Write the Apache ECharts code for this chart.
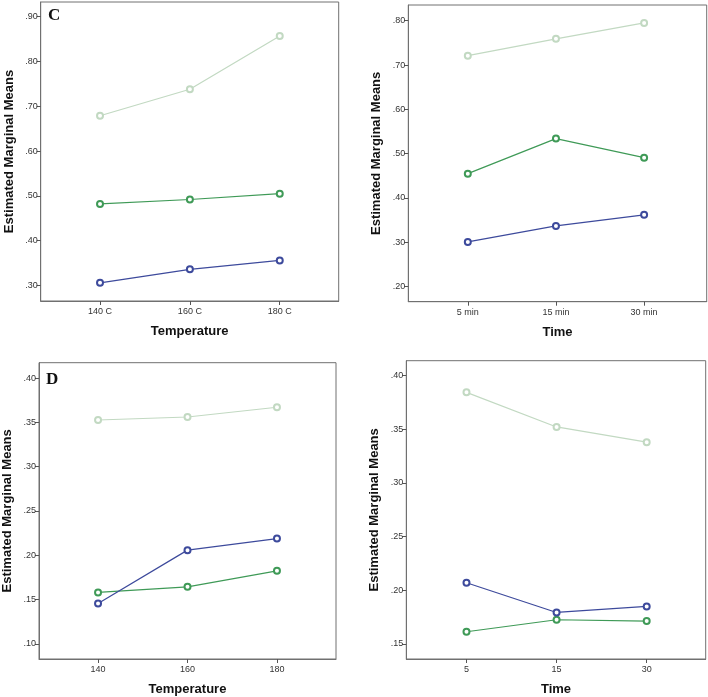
<!DOCTYPE html>
<html>
<head>
<meta charset="utf-8">
<script src="https://cdn.jsdelivr.net/npm/echarts@6/dist/echarts.min.js"></script>
<style>html,body{margin:0;padding:0;background:#fff}#c{width:708px;height:697px}</style>
</head>
<body>
<div id="c"></div>
<script>
// ---- data ----
const tempCatsC = ['140 C', '160 C', '180 C'];
const timeCatsC = ['5 min', '15 min', '30 min'];
const tempCatsD = ['140', '160', '180'];
const timeCatsD = ['5', '15', '30'];

const yTicksC1 = [0.30, 0.40, 0.50, 0.60, 0.70, 0.80, 0.90];
const yTicksC2 = [0.20, 0.30, 0.40, 0.50, 0.60, 0.70, 0.80];
const yTicksD1 = [0.10, 0.15, 0.20, 0.25, 0.30, 0.35, 0.40];
const yTicksD2 = [0.15, 0.20, 0.25, 0.30, 0.35, 0.40];

// panel C, temperature
const cTempLight = [0.679, 0.738, 0.857];
const cTempGreen = [0.482, 0.492, 0.505];
const cTempBlue  = [0.306, 0.336, 0.356];
// panel C, time
const cTimeLight = [0.721, 0.759, 0.795];
const cTimeGreen = [0.455, 0.534, 0.491];
const cTimeBlue  = [0.301, 0.337, 0.362];
// panel D, temperature
const dTempLight = [0.3526, 0.356, 0.367];
const dTempBlue  = [0.1455, 0.2057, 0.2188];
const dTempGreen = [0.158, 0.1643, 0.1823];
// panel D, time
const dTimeLight = [0.3845, 0.3522, 0.338];
const dTimeBlue  = [0.2069, 0.1792, 0.1848];
const dTimeGreen = [0.1612, 0.1724, 0.1712];

const COL_LIGHT = '#c2d9c2';
const COL_GREEN = '#3f9a57';
const COL_BLUE  = '#3d4a9c';

const panels = [
  {grid:{left:40.7, top:2, width:298, height:299}, ymin:0.2654, ymax:0.9328, yt:yTicksC1, xmin:-0.66, xmax:2.656, cats:tempCatsC, xname:'Temperature',
   series:[[cTempLight,COL_LIGHT],[cTempGreen,COL_GREEN],[cTempBlue,COL_BLUE]]},
  {grid:{left:408.3, top:5, width:298.4, height:296.7}, ymin:0.1661, ymax:0.8354, yt:yTicksC2, xmin:-0.675, xmax:2.71, cats:timeCatsC, xname:'Time',
   series:[[cTimeLight,COL_LIGHT],[cTimeGreen,COL_GREEN],[cTimeBlue,COL_BLUE]]},
  {grid:{left:38.7, top:362.7, width:297.3, height:296.6}, ymin:0.0828, ymax:0.4173, yt:yTicksD1, xmin:-0.66, xmax:2.66, cats:tempCatsD, xname:'Temperature',
   series:[[dTempLight,COL_LIGHT],[dTempGreen,COL_GREEN],[dTempBlue,COL_BLUE]]},
  {grid:{left:406.3, top:360.7, width:299.4, height:298.6}, ymin:0.1358, ymax:0.414, yt:yTicksD2, xmin:-0.668, xmax:2.655, cats:timeCatsD, xname:'Time',
   series:[[dTimeLight,COL_LIGHT],[dTimeGreen,COL_GREEN],[dTimeBlue,COL_BLUE]]}
];

const FONT = 'Liberation Sans, Arial, sans-serif';
const grids = [], xAxes = [], yAxes = [], series = [];
panels.forEach((p, i) => {
  grids.push(Object.assign({show:true, borderColor:'#707070', borderWidth:1, backgroundColor:'#fff'}, p.grid));
  xAxes.push({
    type:'value', gridIndex:i, min:p.xmin, max:p.xmax,
    name:p.xname, nameLocation:'middle', nameGap:24,
    nameTextStyle:{fontFamily:FONT, fontWeight:'bold', fontSize:13, color:'#111'},
    axisLine:{show:true, onZero:false, lineStyle:{color:'#707070'}},
    axisTick:{show:true, inside:false, length:4, lineStyle:{color:'#555'}, customValues:[0,1,2]},
    axisLabel:{show:true, customValues:[0,1,2], fontFamily:FONT, fontSize:9, color:'#333', margin:6,
      formatter:(v)=>p.cats[Math.round(v)]},
    splitLine:{show:false}
  });
  yAxes.push({
    type:'value', gridIndex:i, min:p.ymin, max:p.ymax,
    name:'Estimated Marginal Means', nameLocation:'middle', nameGap:25, nameRotate:90,
    nameTextStyle:{fontFamily:FONT, fontWeight:'bold', fontSize:13, color:'#111'},
    axisLine:{show:true, onZero:false, lineStyle:{color:'#707070'}},
    axisTick:{show:true, inside:false, length:4, lineStyle:{color:'#555'}, customValues:p.yt},
    axisLabel:{show:true, customValues:p.yt, fontFamily:FONT, fontSize:9, color:'#333', margin:3,
      formatter:(v)=>v.toFixed(2).replace(/^0/, '')},
    splitLine:{show:false}
  });
  p.series.forEach(([vals, col]) => {
    series.push({
      type:'line', xAxisIndex:i, yAxisIndex:i,
      data: vals.map((v, k) => [k, v]),
      symbol:'emptyCircle', symbolSize:6,
      lineStyle:{color:col, width:1.2},
      itemStyle:{color:col, borderColor:col, borderWidth:1.1},
      animation:false
    });
  });
});

const chart = echarts.init(document.getElementById('c'), null, {renderer:'canvas'});
chart.setOption({
  animation:false,
  backgroundColor:'#fff',
  grid:grids, xAxis:xAxes, yAxis:yAxes, series:series,
  graphic:[
    {type:'text', left:48, top:7, z:100, style:{text:'C', fontFamily:'Liberation Serif, Times New Roman, serif', fontWeight:'bold', fontSize:17, fill:'#111'}},
    {type:'text', left:46, top:371, z:100, style:{text:'D', fontFamily:'Liberation Serif, Times New Roman, serif', fontWeight:'bold', fontSize:17, fill:'#111'}}
  ]
});
</script>
</body>
</html>
